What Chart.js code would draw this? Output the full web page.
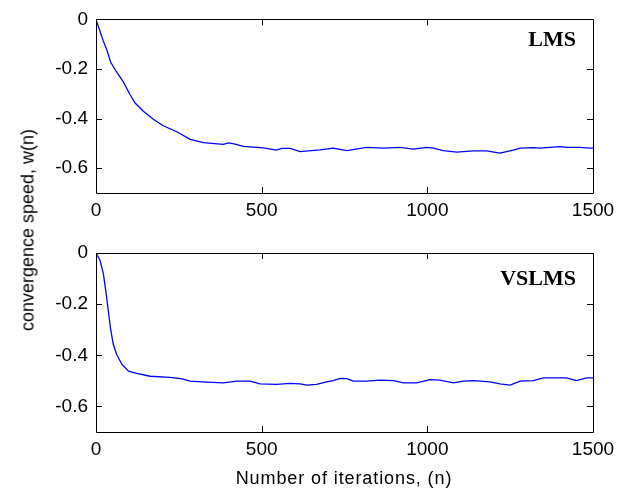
<!DOCTYPE html>
<html><head><meta charset="utf-8">
<script src="https://cdn.jsdelivr.net/npm/chart.js@4/dist/chart.umd.min.js"></script>
<style>
html,body{margin:0;padding:0;background:#fff}
#wrap{position:relative;width:629px;height:497px;overflow:hidden}
canvas{position:absolute;left:0;top:0}
.t{position:absolute;white-space:nowrap;color:#000}
#ylab{font-family:"Liberation Sans",Arial,sans-serif;font-size:18px;left:28px;top:230px;transform:translate(-50%,-50%) rotate(-90deg)}
#xlab{font-family:"Liberation Sans",Arial,sans-serif;font-size:18px;letter-spacing:0.9px;left:344px;top:478px;transform:translate(-50%,-50%)}
.nm{font-family:"Liberation Serif","Times New Roman",serif;font-weight:bold;font-size:22px;transform:translateY(-50%)}
#n1{right:53px;top:39px}
#n2{right:53px;top:278px}
</style></head>
<body><div id="wrap">
<canvas id="c1" width="629" height="497"></canvas>
<canvas id="c2" width="629" height="497"></canvas>
<div class="t" id="ylab">convergence speed, w(n)</div>
<div class="t" id="xlab">Number of iterations, (n)</div>
<div class="t nm" id="n1">LMS</div>
<div class="t nm" id="n2">VSLMS</div>
</div>
<script>
const xTicks = [0, 500, 1000, 1500];
const yTicks = [0, -0.2, -0.4, -0.6];
const yTickLabels = ["0", "-0.2", "-0.4", "-0.6"];
const panelNames = ["LMS", "VSLMS"];

const lmsN = [0,10,22,32,44,62,82,103,118,143,173,203,244,284,324,350,384,400,420,445,505,545,560,586,616,676,716,757,817,867,918,958,998,1018,1048,1089,1139,1179,1219,1259,1280,1320,1340,1400,1420,1461,1491,1500];
const lmsW = [0,-0.04,-0.087,-0.12,-0.172,-0.212,-0.251,-0.304,-0.337,-0.37,-0.403,-0.429,-0.453,-0.484,-0.497,-0.5,-0.504,-0.498,-0.503,-0.512,-0.518,-0.527,-0.52,-0.52,-0.533,-0.526,-0.519,-0.529,-0.516,-0.519,-0.516,-0.523,-0.516,-0.519,-0.529,-0.535,-0.53,-0.53,-0.539,-0.527,-0.519,-0.517,-0.519,-0.513,-0.516,-0.516,-0.519,-0.519];

const vslmsN = [0,12,22,30,37,44,52,62,78,98,123,163,223,260,284,334,384,425,465,495,545,586,616,636,666,696,716,737,757,777,817,857,898,928,968,1008,1038,1079,1109,1139,1189,1219,1250,1280,1320,1350,1390,1420,1450,1481,1500];
const vslmsW = [0,-0.028,-0.08,-0.152,-0.225,-0.297,-0.356,-0.396,-0.435,-0.462,-0.471,-0.482,-0.486,-0.492,-0.501,-0.505,-0.508,-0.501,-0.501,-0.512,-0.514,-0.51,-0.512,-0.517,-0.514,-0.504,-0.499,-0.49,-0.491,-0.501,-0.501,-0.497,-0.499,-0.508,-0.508,-0.495,-0.497,-0.508,-0.501,-0.499,-0.504,-0.512,-0.517,-0.501,-0.499,-0.488,-0.488,-0.488,-0.499,-0.488,-0.488];

Chart.defaults.font.family = '"Liberation Sans", Arial, sans-serif';
Chart.defaults.font.size = 19;
Chart.defaults.color = '#000';

const frame = {
  id: 'frame',
  afterDatasetsDraw(chart) {
    const {ctx, chartArea: a, scales: {x, y}} = chart;
    const L = 6;
    ctx.save();
    ctx.strokeStyle = '#000';
    ctx.lineWidth = 1;
    ctx.beginPath();
    ctx.rect(Math.round(a.left) + 0.5, Math.round(a.top) + 0.5, Math.round(a.right - a.left), Math.round(a.bottom - a.top));
    xTicks.forEach(v => {
      const px = Math.round(x.getPixelForValue(v)) + 0.5;
      ctx.moveTo(px, a.bottom); ctx.lineTo(px, a.bottom - L);
      ctx.moveTo(px, a.top); ctx.lineTo(px, a.top + L);
    });
    yTicks.forEach(v => {
      const py = Math.round(y.getPixelForValue(v)) + 0.5;
      ctx.moveTo(a.left, py); ctx.lineTo(a.left + L, py);
      ctx.moveTo(a.right, py); ctx.lineTo(a.right - L, py);
    });
    ctx.stroke();
    ctx.restore();
  }
};

function makeChart(id, ns, ws, top, bottom) {
  const xAxisH = 30;
  return new Chart(document.getElementById(id), {
    type: 'line',
    data: {
      datasets: [{
        data: ns.map((n, i) => ({x: n, y: ws[i]})),
        borderColor: '#0000ff',
        borderWidth: 1.3,
        pointRadius: 0,
        tension: 0,
        fill: false
      }]
    },
    options: {
      responsive: false,
      animation: false,
      devicePixelRatio: 1,
      layout: {padding: {left: 0, right: 36, top: top, bottom: 497 - bottom - xAxisH}},
      plugins: {legend: {display: false}, tooltip: {enabled: false}},
      scales: {
        x: {
          type: 'linear', min: 0, max: 1500,
          grid: {display: false, drawTicks: false},
          border: {display: false},
          afterBuildTicks: s => { s.ticks = xTicks.map(v => ({value: v})); },
          afterFit: s => { s.height = xAxisH; },
          ticks: {padding: 6, maxRotation: 0, callback: v => String(v)}
        },
        y: {
          type: 'linear', min: -0.7, max: 0,
          grid: {display: false, drawTicks: false},
          border: {display: false},
          afterBuildTicks: s => { s.ticks = yTicks.map(v => ({value: v})); },
          afterFit: s => { s.width = 96; },
          ticks: {padding: 8, callback: v => { const i = yTicks.findIndex(t => Math.abs(t - v) < 1e-9); return i >= 0 ? yTickLabels[i] : ''; }}
        }
      }
    },
    plugins: [frame]
  });
}
makeChart('c1', lmsN, lmsW, 15, 193);
makeChart('c2', vslmsN, vslmsW, 253, 432);
</script>
</body></html>
